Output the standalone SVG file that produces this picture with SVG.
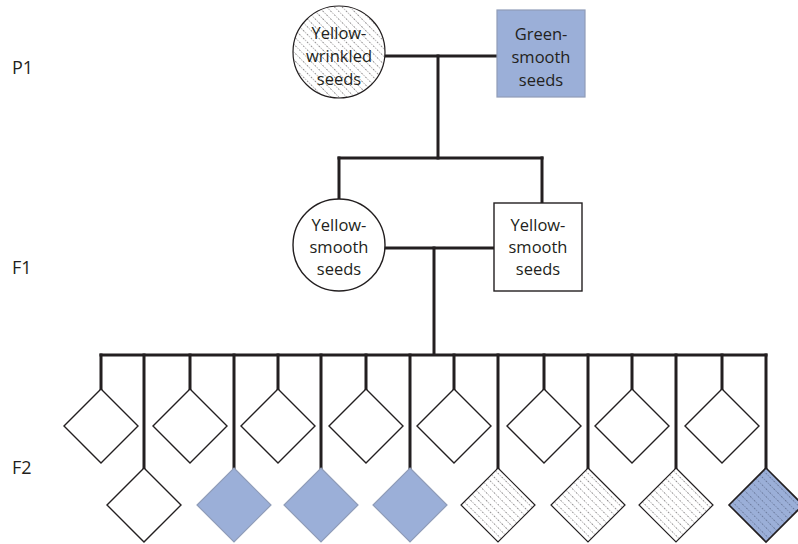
<svg xmlns="http://www.w3.org/2000/svg" width="798" height="544" viewBox="0 0 798 544">
  <style>
    .lbl { font-family: "Open Sans", "Liberation Sans", sans-serif; font-size: 18px; fill: #231f20; }
    .txt { font-family: "Open Sans", "Liberation Sans", sans-serif; font-size: 16.5px; fill: #231f20; text-anchor: middle; }
    .wire { stroke: #231f20; stroke-width: 3; fill: none; stroke-linecap: square; }
    .plain { fill: #ffffff; stroke: #231f20; stroke-width: 1.4; }
    .blue { fill: #9bafd8; stroke: #8f9cb8; stroke-width: 1.2; }
    .hatch { fill: url(#dots); stroke: #231f20; stroke-width: 1.2; }
    .bluehatch { fill: url(#dotsBlue); stroke: #231f20; stroke-width: 1.6; }
  </style>
  <defs>
    <pattern id="dots" width="5.5" height="5.5" patternUnits="userSpaceOnUse" patternTransform="rotate(-45)">
      <rect width="5.5" height="5.5" fill="#ffffff"/>
      <line x1="0" y1="0" x2="0" y2="5.5" stroke="#231f20" stroke-width="0.9" stroke-dasharray="1 1.3"/>
    </pattern>
    <pattern id="dotsBlue" width="5.5" height="5.5" patternUnits="userSpaceOnUse" patternTransform="rotate(-45)">
      <rect width="5.5" height="5.5" fill="#9bafd8"/>
      <line x1="0" y1="0" x2="0" y2="5.5" stroke="#3a4560" stroke-width="0.9" stroke-dasharray="1 1.3"/>
    </pattern>
    <path id="dia" d="M0,-37 L37,0 L0,37 L-37,0 Z"/>
  </defs>

  <!-- generation labels -->
  <text class="lbl" x="12" y="74">P1</text>
  <text class="lbl" x="12" y="274">F1</text>
  <text class="lbl" x="12" y="474">F2</text>

  <!-- connectors -->
  <g id="connectors">
    <path class="wire" d="M385,56 H497"/>
    <path class="wire" d="M438,56 V158"/>
    <path class="wire" d="M339,158 H542"/>
    <path class="wire" d="M339,158 V200"/>
    <path class="wire" d="M542,158 V202"/>
    <path class="wire" d="M385,248 H494"/>
    <path class="wire" d="M434,248 V354"/>
    <path class="wire" d="M101,355 H766"/>
    <!-- drops to upper row -->
    <path class="wire" d="M101,355 V389 M190,355 V389 M278,355 V389 M366,355 V389 M454,355 V389 M544,355 V389 M632,355 V389 M722,355 V389"/>
    <!-- drops to lower row -->
    <path class="wire" d="M144,355 V468 M234,355 V468 M321,355 V468 M410,355 V468 M498,355 V468 M588,355 V468 M676,355 V468 M766,355 V468"/>
  </g>

  <!-- P1 -->
  <g id="p1-yellow-wrinkled">
    <circle class="hatch" cx="339" cy="52" r="46"/>
    <text class="txt" x="339" y="39">Yellow-</text>
    <text class="txt" x="339" y="62">wrinkled</text>
    <text class="txt" x="339" y="85">seeds</text>
  </g>
  <g id="p1-green-smooth">
    <rect class="blue" x="497" y="10" width="88" height="87"/>
    <text class="txt" x="541" y="40">Green-</text>
    <text class="txt" x="541" y="63">smooth</text>
    <text class="txt" x="541" y="86">seeds</text>
  </g>

  <!-- F1 -->
  <g id="f1-circle">
    <circle class="plain" cx="339" cy="245" r="46"/>
    <text class="txt" x="339" y="231">Yellow-</text>
    <text class="txt" x="339" y="253">smooth</text>
    <text class="txt" x="339" y="275">seeds</text>
  </g>
  <g id="f1-square">
    <rect class="plain" x="494" y="203" width="88" height="88"/>
    <text class="txt" x="538" y="231">Yellow-</text>
    <text class="txt" x="538" y="253">smooth</text>
    <text class="txt" x="538" y="275">seeds</text>
  </g>

  <!-- F2 upper row -->
  <g id="f2-a1"><use href="#dia" class="plain" x="101" y="426"/></g>
  <g id="f2-a2"><use href="#dia" class="plain" x="190" y="426"/></g>
  <g id="f2-a3"><use href="#dia" class="plain" x="278" y="426"/></g>
  <g id="f2-a4"><use href="#dia" class="plain" x="366" y="426"/></g>
  <g id="f2-a5"><use href="#dia" class="plain" x="454" y="426"/></g>
  <g id="f2-a6"><use href="#dia" class="plain" x="544" y="426"/></g>
  <g id="f2-a7"><use href="#dia" class="plain" x="632" y="426"/></g>
  <g id="f2-a8"><use href="#dia" class="plain" x="722" y="426"/></g>

  <!-- F2 lower row -->
  <g id="f2-b1"><use href="#dia" class="plain" x="144" y="505"/></g>
  <g id="f2-b2"><use href="#dia" class="blue" x="234" y="505"/></g>
  <g id="f2-b3"><use href="#dia" class="blue" x="321" y="505"/></g>
  <g id="f2-b4"><use href="#dia" class="blue" x="410" y="505"/></g>
  <g id="f2-b5"><use href="#dia" class="hatch" x="498" y="505"/></g>
  <g id="f2-b6"><use href="#dia" class="hatch" x="588" y="505"/></g>
  <g id="f2-b7"><use href="#dia" class="hatch" x="676" y="505"/></g>
  <g id="f2-b8"><use href="#dia" class="bluehatch" x="766" y="505"/></g>
</svg>
